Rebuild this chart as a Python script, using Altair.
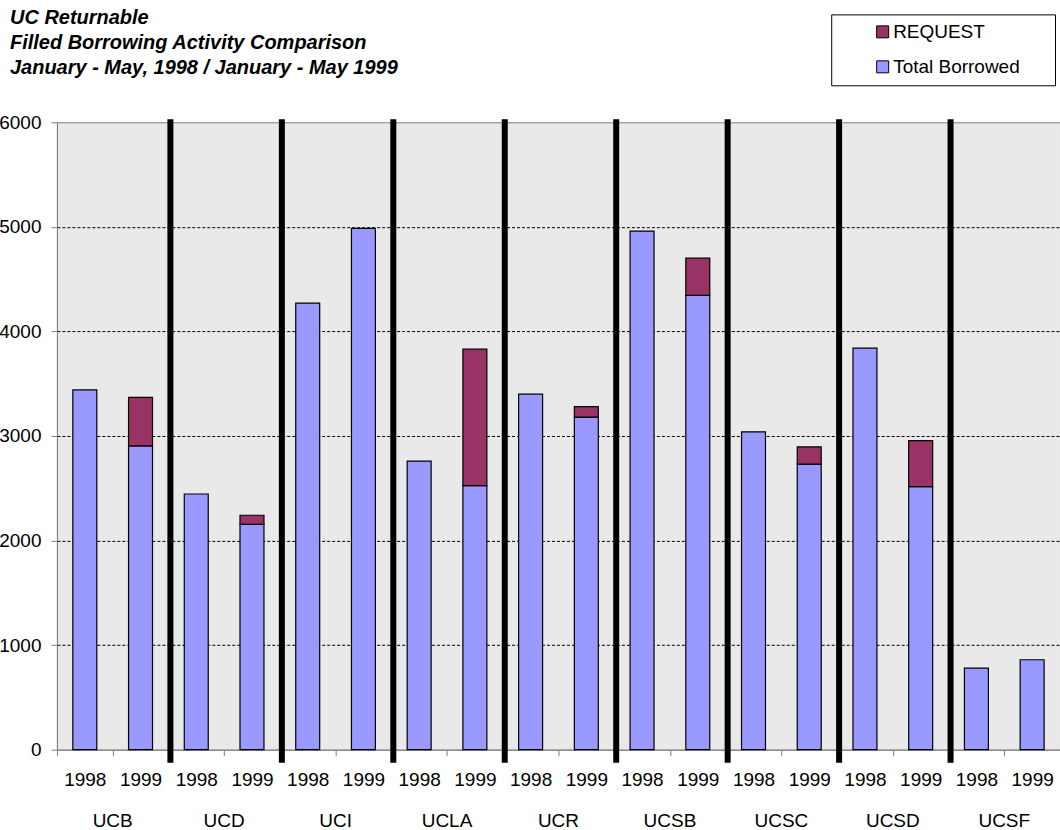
import altair as alt
import pandas as pd

# Campuses and the two comparison years
campuses = ["UCB", "UCD", "UCI", "UCLA", "UCR", "UCSB", "UCSC", "UCSD", "UCSF"]
years = ["1998", "1999"]

# Filled returnable borrowing, January - May of each year
borrowed_1998 = [3440, 2445, 4270, 2760, 3400, 4960, 3040, 3840, 780]
borrowed_1999 = [2905, 2155, 4985, 2525, 3180, 4345, 2730, 2515, 860]
request_1998 = [0, 0, 0, 0, 0, 0, 0, 0, 0]
request_1999 = [465, 87, 0, 1305, 100, 355, 165, 440, 0]

series = ["REQUEST", "Total Borrowed"]
series_colors = ["#993366", "#9999ff"]
y_ticks = [0, 1000, 2000, 3000, 4000, 5000, 6000]

FONT = "Liberation Sans"

rows = []
slots = []
for i, campus in enumerate(campuses):
    pairs = ((years[0], borrowed_1998[i], request_1998[i]),
             (years[1], borrowed_1999[i], request_1999[i]))
    for year, borrowed, request in pairs:
        slot = f"{campus} {year}"
        slots.append(slot)
        rows.append({"slot": slot, "series": "Total Borrowed", "value": borrowed, "stack_order": 0})
        if request > 0:
            rows.append({"slot": slot, "series": "REQUEST", "value": request, "stack_order": 1})
bars_df = pd.DataFrame(rows)

# campus name sits on the boundary between its two year slots
campus_df = pd.DataFrame({"campus": campuses, "slot": [f"{c} {years[1]}" for c in campuses]})
# separators sit at the start of every campus after the first
divider_df = pd.DataFrame({"slot": [f"{c} {years[0]}" for c in campuses[1:]]})

x_scale = alt.Scale(domain=slots, paddingInner=0, paddingOuter=0)
x_axis = alt.Axis(
    title=None, tickBand="extent", labelExpr="slice(datum.label, -4)",
    labelAngle=0, labelBaseline="alphabetic", labelPadding=30, labelOverlap=False,
    tickSize=6, tickColor="#808080", domainColor="#808080", grid=False,
    labelFontSize=19, labelFont=FONT, labelColor="black",
)
y_axis = alt.Axis(
    title=None, values=y_ticks, format="d", grid=True, gridColor="black",
    gridDash=[3, 2], gridWidth=1,
    gridOpacity={"condition": {"test": "datum.value === 0 || datum.value === 6000", "value": 0}, "value": 1},
    tickSize=6, tickColor="#808080", domainColor="#808080",
    labelFontSize=19, labelFont=FONT, labelColor="black", labelPadding=10,
)

# trailing no-break spaces widen the legend box; the zero-width char keeps them from being trimmed
legend_label = "datum.label + '\u00a0\u00a0\u00a0\u00a0\u00a0\u200b'"

bars = alt.Chart(bars_df).mark_bar(
    width=alt.RelativeBandSize(0.43), stroke="black", strokeWidth=1.2
).encode(
    x=alt.X("slot:N", scale=x_scale, sort=slots, axis=x_axis),
    y=alt.Y("value:Q", stack="zero", scale=alt.Scale(domain=[0, 6000], nice=False), axis=y_axis),
    color=alt.Color(
        "series:N",
        scale=alt.Scale(domain=series, range=series_colors),
        legend=alt.Legend(
            title=None, orient="none", legendX=775, legendY=-108,
            fillColor="white", strokeColor="black", padding=8,
            symbolType="square", symbolSize=144, symbolStrokeColor="black",
            symbolStrokeWidth=1, symbolOffset=34, labelOffset=1,
            labelFontSize=19, labelFont=FONT, labelColor="black", rowPadding=15,
            labelLimit=0, labelExpr=legend_label,
        ),
    ),
    order=alt.Order("stack_order:Q"),
)

# thick campus separators
dividers = alt.Chart(divider_df).mark_rule(color="black", strokeWidth=6).encode(
    x=alt.X("slot:N", bandPosition=0.036, scale=x_scale, sort=slots, axis=x_axis),
    y=alt.value(-3),
    y2=alt.value(641),
)

campus_labels = alt.Chart(campus_df).mark_text(
    fontSize=19, font=FONT, baseline="alphabetic", color="black"
).encode(
    x=alt.X("slot:N", bandPosition=0, scale=x_scale, sort=slots, axis=x_axis),
    y=alt.value(705),
    text="campus:N",
)

chart = alt.layer(bars, dividers, campus_labels).properties(
    width=1004,
    height=628,
    padding={"left": 57, "top": 122, "right": 0, "bottom": 80},
    autosize=alt.AutoSizeParams(type="none"),
    title=alt.Title(
        ["UC Returnable", "Filled Borrowing Activity Comparison",
         "January - May, 1998 / January - May 1999"],
        anchor="start", frame="group", dx=-47, offset=-64, fontSize=20, font=FONT,
        fontStyle="italic", fontWeight="bold", lineHeight=25, color="black",
    ),
).configure_view(fill="#e9e9e9", stroke="#808080", strokeWidth=1)

chart.save("out.html", embed_options={"renderer": "svg", "actions": False})
